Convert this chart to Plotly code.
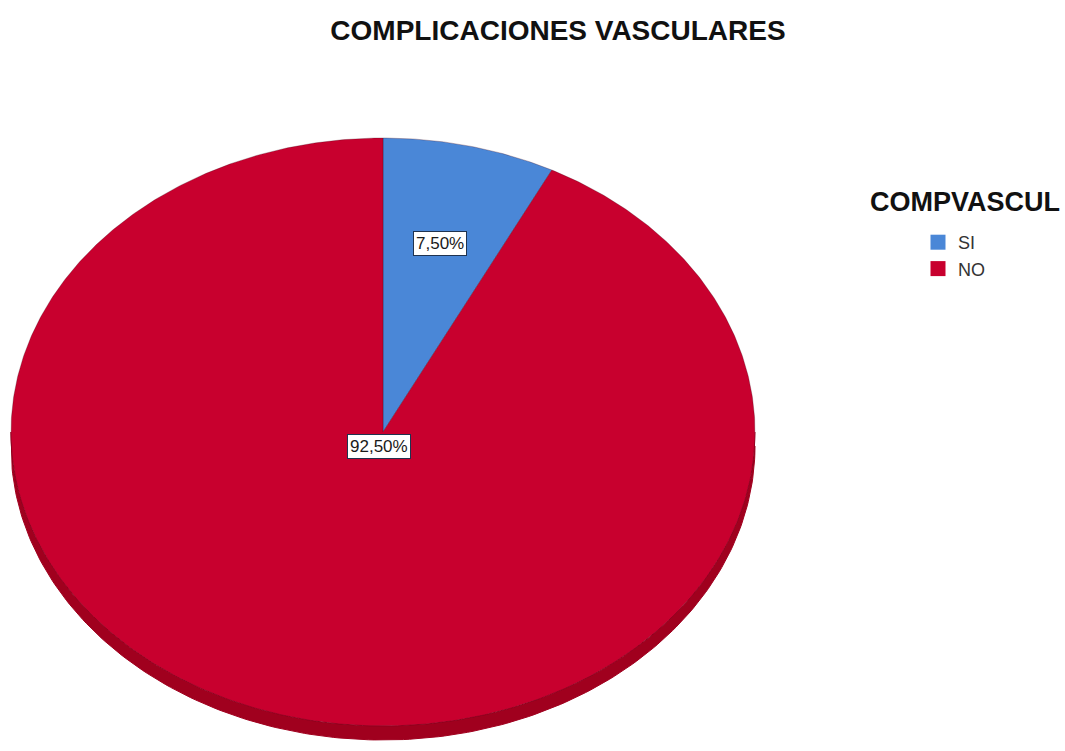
import numpy as np
import plotly.graph_objects as go

# Category data
categories = ["SI", "NO"]
values = [7.5, 92.5]
labels = ["7,50%", "92,50%"]
colors = ["#4A87D7", "#C8002E"]
side_color = "#A0001E"

W, H = 1065, 751
cx, cy = 383, 432          # pie centre (pixels)
rx, ry = 372, 294          # ellipse radii of the tilted pie
depth = 14                 # visible thickness of the pie edge


def ell(t):
    """Point on the pie top for angle t (radians, clockwise from 12 o'clock)."""
    return cx + rx * np.sin(t), cy - ry * np.cos(t)


fig = go.Figure()

# Edge (3D side) of the pie: lower half, shifted down by depth
t_side = np.linspace(np.pi / 2, 3 * np.pi / 2, 200)
sx, sy = ell(t_side)
side_x = np.concatenate([sx, sx[::-1]])
side_y = np.concatenate([sy, sy[::-1] + depth])
fig.add_trace(go.Scatter(x=side_x, y=side_y, fill="toself", mode="lines",
                         fillcolor=side_color, line=dict(color=side_color, width=1),
                         hoverinfo="skip", showlegend=False))

# Slices
total = sum(values)
start = 0.0
mids = []
for cat, val, col in zip(categories, values, colors):
    span = val / total * 2 * np.pi
    t = np.linspace(start, start + span, max(int(val * 8), 20))
    px, py = ell(t)
    xs = np.concatenate([[cx], px, [cx]])
    ys = np.concatenate([[cy], py, [cy]])
    fig.add_trace(go.Scatter(x=xs, y=ys, fill="toself", mode="lines",
                             fillcolor=col, line=dict(color="rgba(60,0,20,0.35)", width=0.8),
                             name=cat, hoverinfo="name", showlegend=False))
    mids.append((start + span / 2, val / total))
    start += span

# Percentage labels
for (mid, frac), text in zip(mids, labels):
    r = 0.66 if frac < 0.5 else 0.05
    lx = cx + r * rx * np.sin(mid)
    ly = cy - r * ry * np.cos(mid)
    fig.add_annotation(x=lx, y=ly, text=text, showarrow=False,
                       font=dict(family="Arial, Liberation Sans", size=17, color="#1a1a1a"),
                       bgcolor="white", bordercolor="#1F3350", borderwidth=1, borderpad=2)

# Legend entries
for cat, col in zip(categories, colors):
    fig.add_trace(go.Scatter(x=[None], y=[None], mode="markers", name=cat,
                             marker=dict(symbol="square", size=15, color=col)))

fig.add_annotation(x=868 / W, y=1 - 202 / H, xref="paper", yref="paper",
                   xanchor="left", yanchor="middle", showarrow=False,
                   text="<b>COMPVASCUL</b>",
                   font=dict(family="Arial, Liberation Sans", size=27, color="#111"))

fig.update_layout(
    width=W, height=H,
    margin=dict(l=0, r=0, t=0, b=0),
    paper_bgcolor="white", plot_bgcolor="white",
    title=dict(text="<b>COMPLICACIONES VASCULARES</b>", x=558 / W, xanchor="center",
               y=1 - 30 / H, yanchor="middle",
               font=dict(family="Arial, Liberation Sans", size=28, color="#111")),
    xaxis=dict(range=[0, W], visible=False, fixedrange=True),
    yaxis=dict(range=[H, 0], visible=False, fixedrange=True),
    legend=dict(x=918 / W, y=1 - 224 / H, xanchor="left", yanchor="top",
                font=dict(family="Arial, Liberation Sans", size=18, color="#333"),
                bgcolor="rgba(0,0,0,0)", itemwidth=30),
    showlegend=True,
)

fig.write_html("out.html")
